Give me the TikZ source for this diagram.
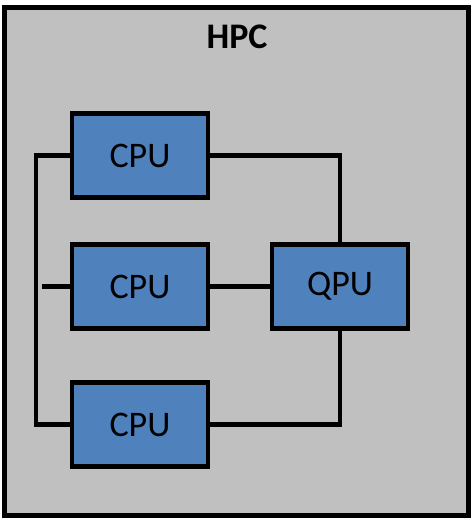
\documentclass[tikz,border=0pt]{standalone}
\usepackage{fontspec}
\setmainfont{Carlito}
\usetikzlibrary{positioning}
\definecolor{hpcgray}{HTML}{C0C0C0}
\definecolor{unitblue}{HTML}{4F81BD}

\begin{document}
\begin{tikzpicture}[
 x=0.75pt,y=-0.75pt,
 frame/.style={rectangle,draw,line width=3.3pt,fill=hpcgray,minimum width=348pt,minimum height=381pt,inner sep=0pt},
 unit/.style={rectangle,draw,line width=3.3pt,fill=unitblue,minimum width=102pt,minimum height=63pt,inner sep=0pt,font=\fontsize{27}{32}\selectfont},
 wire/.style={line width=3.3pt}
]
\useasboundingbox (0,0) rectangle (473,520);
\node[frame] (hpc) at (236.5,261.5) {};
\node[font=\fontsize{27}{32}\selectfont\bfseries] (title) at (237,37) {HPC};
\node[unit] (cpu1) at (140,155.5) {CPU};
\node[unit] (cpu2) at (140,286.5) {CPU};
\node[unit] (cpu3) at (140,424.5) {CPU};
\node[unit] (qpu) at (340,286.5) {QPU};
\coordinate (bus) at (36,155.5);
\coordinate (stub) at (42,286.5);
\draw[wire] (cpu1.west) -- (bus) |- (cpu3.west);
\draw[wire] (stub) -- (cpu2.west);
\draw[wire] (cpu1.east) -| (qpu.north);
\draw[wire] (cpu2.east) -- (qpu.west);
\draw[wire] (cpu3.east) -| (qpu.south);
\end{tikzpicture}
\end{document}
